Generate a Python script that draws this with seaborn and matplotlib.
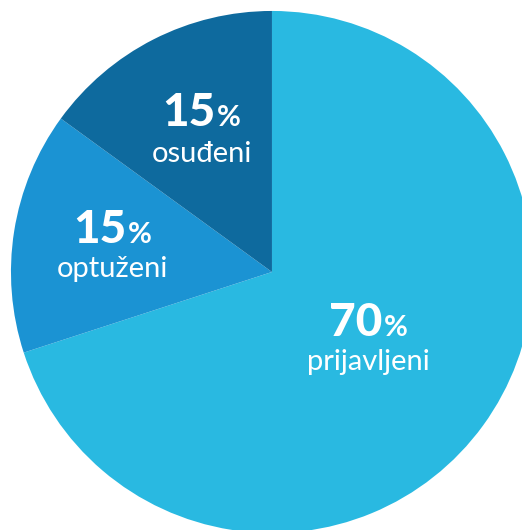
import matplotlib
matplotlib.use("Agg")
import matplotlib.pyplot as plt
import matplotlib.transforms as mtransforms
import seaborn as sns

# Share of cases by stage
categories = ["prijavljeni", "optuženi", "osuđeni"]
shares = [70, 15, 15]
colors = ["#29B9E1", "#1B93D3", "#0E6A9E"]

sns.set_theme(style="white")
plt.rcParams["font.family"] = ["Lato", "DejaVu Sans"]

fig = plt.figure(figsize=(5.22, 5.30), dpi=100)
ax = fig.add_axes([0, 0, 1, 1])
ax.set_axis_off()

ax.pie(shares, colors=sns.color_palette(colors), startangle=90, counterclock=False,
       radius=1.0, center=(0, 0), wedgeprops=dict(linewidth=0))

ax.set_xlim(-1.042, 0.958)
ax.set_ylim(-0.9885, 1.042)
ax.set_aspect("auto")

# label anchors in pie radii: (x centre, number baseline, name baseline)
label_pos = {
    "prijavljeni": (0.37, -0.245, -0.375),
    "optuženi": (-0.61, 0.11, -0.02),
    "osuđeni": (-0.27, 0.56, 0.42),
}

renderer = fig.canvas.get_renderer()
for cat, val in zip(categories, shares):
    x, yn, yl = label_pos[cat]
    num = ax.text(x, yn, f"{val}", color="white", fontsize=33,
                  fontweight="black", ha="left", va="baseline")
    pct = ax.text(x, yn, "%", color="white", fontsize=21,
                  fontweight="bold", ha="left", va="baseline")
    wn = num.get_window_extent(renderer).width
    wp = pct.get_window_extent(renderer).width
    gap = 1.5
    total = wn + gap + wp
    num.set_transform(ax.transData + mtransforms.ScaledTranslation(
        -total / 2 / fig.dpi, 0, fig.dpi_scale_trans))
    pct.set_transform(ax.transData + mtransforms.ScaledTranslation(
        (-total / 2 + wn + gap) / fig.dpi, 0, fig.dpi_scale_trans))
    ax.text(x, yl, cat, color="white", fontsize=21, ha="center", va="baseline")

fig.savefig("out.png", dpi=100)
